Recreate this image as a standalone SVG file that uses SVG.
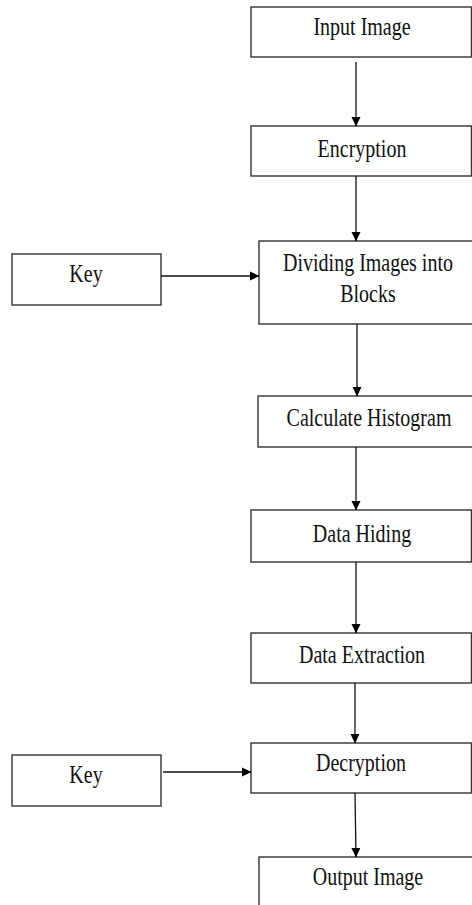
<svg xmlns="http://www.w3.org/2000/svg" width="472" height="905" viewBox="0 0 472 905">
<defs>
<marker id="arr" markerWidth="10" markerHeight="10" refX="9" refY="5" orient="auto" markerUnits="userSpaceOnUse">
<path d="M0,0.5 L9.5,5 L0,9.5 Z" fill="#000"/>
</marker>
<style>
.box{fill:#fff;stroke:#333;stroke-width:1.4}
.lbl{font-family:"Liberation Serif","Times New Roman",serif;font-size:20px;fill:#111;text-anchor:middle}
.con{stroke:#111;stroke-width:1.3;fill:none;marker-end:url(#arr)}
</style>
</defs>
<rect width="472" height="905" fill="#fff"/>
<g id="input-image">
<rect class="box" x="251" y="7" width="220.5" height="50"/>
<text class="lbl" transform="translate(362,35) scale(1,1.22)">Input Image</text>
</g>
<g id="encryption">
<rect class="box" x="251" y="126" width="220.5" height="50"/>
<text class="lbl" transform="translate(362,157) scale(1,1.22)">Encryption</text>
</g>
<g id="key1">
<rect class="box" x="12" y="254" width="149" height="51"/>
<text class="lbl" transform="translate(86,282) scale(1,1.22)">Key</text>
</g>
<g id="dividing">
<rect class="box" x="259" y="241" width="230" height="83"/>
<text class="lbl" transform="translate(368,271) scale(1,1.22)">Dividing Images into</text>
<text class="lbl" transform="translate(368,302) scale(1,1.22)">Blocks</text>
</g>
<g id="histogram">
<rect class="box" x="258" y="396" width="230" height="51"/>
<text class="lbl" transform="translate(369,426) scale(1,1.22)">Calculate Histogram</text>
</g>
<g id="data-hiding">
<rect class="box" x="251" y="510" width="220.5" height="52"/>
<text class="lbl" transform="translate(362,542) scale(1,1.22)">Data Hiding</text>
</g>
<g id="data-extraction">
<rect class="box" x="251" y="633" width="220.5" height="50"/>
<text class="lbl" transform="translate(362,663) scale(1,1.22)">Data Extraction</text>
</g>
<g id="key2">
<rect class="box" x="12" y="755" width="149" height="51"/>
<text class="lbl" transform="translate(86,783) scale(1,1.22)">Key</text>
</g>
<g id="decryption">
<rect class="box" x="251" y="743" width="220.5" height="50"/>
<text class="lbl" transform="translate(361,771) scale(1,1.22)">Decryption</text>
</g>
<g id="output-image">
<rect class="box" x="259" y="857" width="230" height="60"/>
<text class="lbl" transform="translate(368,885) scale(1,1.22)">Output Image</text>
</g>
<g id="connectors">
<line class="con" x1="356" y1="62" x2="356" y2="126"/>
<line class="con" x1="356" y1="176" x2="356" y2="241"/>
<line class="con" x1="161" y1="276" x2="259" y2="276"/>
<line class="con" x1="357" y1="324" x2="357" y2="396"/>
<line class="con" x1="356" y1="447" x2="356" y2="510"/>
<line class="con" x1="356" y1="562" x2="356" y2="633"/>
<line class="con" x1="355" y1="683" x2="355" y2="743"/>
<line class="con" x1="163" y1="772" x2="251" y2="772"/>
<line class="con" x1="355" y1="793" x2="356" y2="857"/>
</g>
</svg>
